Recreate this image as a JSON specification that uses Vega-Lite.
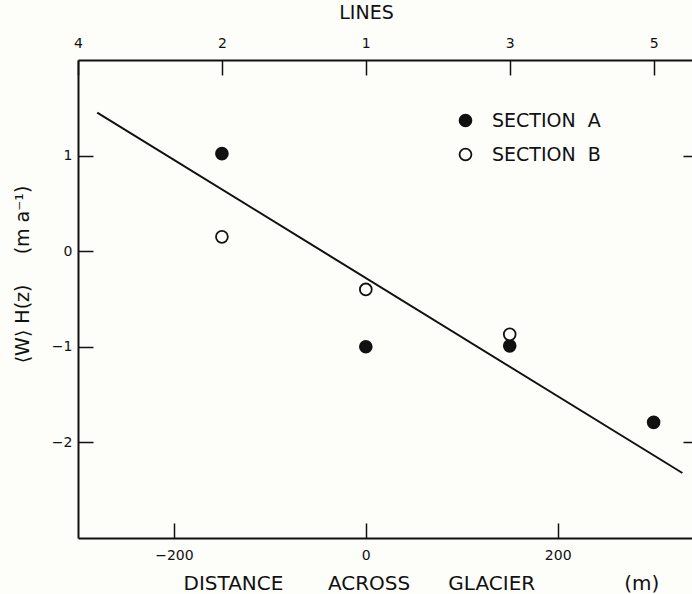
{
  "$schema": "https://vega.github.io/schema/vega-lite/v6.json",
  "width": 614,
  "height": 478,
  "autosize": {"type": "none"},
  "padding": {"left": 78, "top": 60, "right": 0, "bottom": 56},
  "background": "#fdfdfa",
  "config": {
    "view": {"stroke": null},
    "font": "DejaVu Sans",
    "axis": {
      "domainColor": "#111",
      "domainWidth": 2,
      "tickColor": "#111",
      "tickWidth": 1.5,
      "labelColor": "#111",
      "titleColor": "#111",
      "grid": false,
      "labelFontSize": 14,
      "titleFontSize": 19,
      "titleFontWeight": "normal",
      "labelFlush": false,
      "labelOverlap": false
    }
  },
  "layer": [
    {
      "data": {
        "values": [
          {"distance": -150, "w": 1.02, "section": "SECTION A"},
          {"distance": 0, "w": -1.0, "section": "SECTION A"},
          {"distance": 150, "w": -0.99, "section": "SECTION A"},
          {"distance": 300, "w": -1.79, "section": "SECTION A"},
          {"distance": -150, "w": 0.15, "section": "SECTION B"},
          {"distance": 0, "w": -0.4, "section": "SECTION B"},
          {"distance": 150, "w": -0.87, "section": "SECTION B"}
        ]
      },
      "mark": {"type": "point", "filled": true, "size": 140, "stroke": "#111", "strokeWidth": 1.8, "opacity": 1},
      "encoding": {
        "x": {
          "field": "distance", "type": "quantitative",
          "scale": {"domain": [-300, 340], "nice": false, "zero": false},
          "axis": {
            "orient": "bottom", "values": [-200, 0, 200], "tickSize": -15,
            "labelPadding": 25,
            "title": "DISTANCE\u00a0\u00a0\u00a0\u00a0\u00a0\u00a0\u00a0ACROSS\u00a0\u00a0\u00a0\u00a0\u00a0\u00a0GLACIER\u00a0\u00a0\u00a0\u00a0\u00a0\u00a0\u00a0\u00a0\u00a0\u00a0\u00a0\u00a0\u00a0\u00a0(m)",
            "titleAnchor": "start", "titleAlign": "left", "titleX": 105,
            "titlePadding": 11, "titleFontSize": 20
          }
        },
        "y": {
          "field": "w", "type": "quantitative",
          "scale": {"domain": [-3, 2], "nice": false, "zero": false},
          "axis": {
            "orient": "left", "values": [1, 0, -1, -2], "tickSize": -15,
            "labelPadding": 21,
            "title": "⟨W⟩\u00a0H(z)\u00a0\u00a0\u00a0\u00a0\u00a0(m\u00a0a⁻¹)",
            "titleY": 214,
            "titlePadding": 19
          }
        },
        "fill": {
          "field": "section", "type": "nominal",
          "scale": {"domain": ["SECTION A", "SECTION B"], "range": ["#111", "#fdfdfa"]},
          "legend": {
            "orient": "none", "legendX": 378, "legendY": 51, "title": null,
            "padding": 0, "symbolType": "circle", "symbolSize": 140,
            "symbolStrokeColor": "#111", "symbolStrokeWidth": 1.8,
            "labelFontSize": 19, "labelColor": "#111", "labelOffset": 17,
            "labelExpr": "replace(datum.label, ' ', '\u00a0\u00a0')",
            "rowPadding": 13
          }
        }
      }
    },
    {
      "data": {
        "values": [
          {"distance": -280, "w": 1.45},
          {"distance": 330, "w": -2.32}
        ]
      },
      "mark": {"type": "line", "color": "#111", "strokeWidth": 2},
      "encoding": {
        "x": {
          "field": "distance", "type": "quantitative",
          "scale": {"domain": [-300, 340], "nice": false, "zero": false},
          "axis": {
            "orient": "top", "values": [-300, -150, 0, 150, 300], "tickSize": -15,
            "labelPadding": 25,
            "labelExpr": "datum.value == -300 ? '4' : datum.value == -150 ? '2' : datum.value == 0 ? '1' : datum.value == 150 ? '3' : '5'",
            "title": "LINES", "titleAnchor": "start", "titleAlign": "center", "titleX": 288,
            "titlePadding": 14, "titleFontSize": 19
          }
        },
        "y": {
          "field": "w", "type": "quantitative",
          "scale": {"domain": [-3, 2], "nice": false, "zero": false},
          "axis": {
            "orient": "right", "values": [1, -2], "tickSize": -9,
            "labels": false, "domain": false, "title": null
          }
        }
      }
    }
  ],
  "resolve": {"axis": {"x": "independent", "y": "independent"}}
}
